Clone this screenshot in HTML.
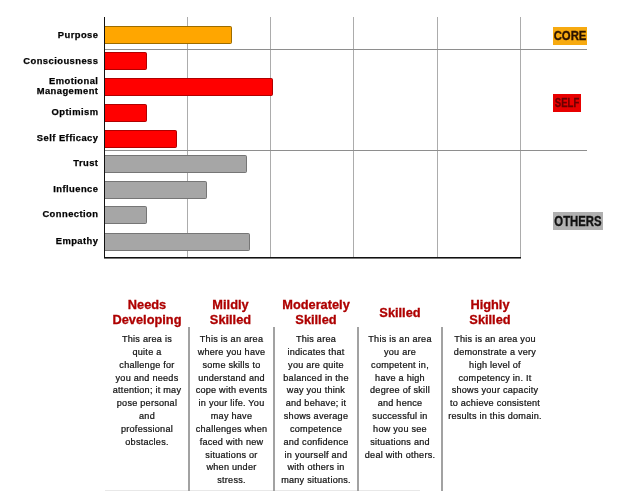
<!DOCTYPE html>
<html><head><meta charset="utf-8">
<style>
html,body{margin:0;padding:0;background:#fff;width:636px;height:491px;overflow:hidden;position:relative;font-family:"Liberation Sans",sans-serif;}
.a{position:absolute;}
.vl{position:absolute;width:1px;background:#acacac;top:17px;height:241px;}
.hl{position:absolute;height:1px;background:#8e8e8e;left:104px;width:483px;}
.lab{position:absolute;right:538px;font-weight:bold;font-size:9.4px;letter-spacing:0.45px;-webkit-text-stroke:0.25px #000;color:#000;text-align:right;line-height:10px;white-space:nowrap;margin-right:-0.45px}
.bar{position:absolute;left:105px;height:16px;border:1px solid;border-left:none;border-radius:0 2px 2px 0;box-sizing:content-box;}
.o{background:#ffa600;border-color:#9c6c00;}
.r{background:#ff0000;border-color:#b00000;}
.g{background:#a6a6a6;border-color:#767676;}
.tag{position:absolute;font-weight:bold;font-size:13px;line-height:18px;color:#1a1a1a;text-align:center;}
.hd{position:absolute;font-weight:bold;font-size:12.8px;line-height:15.3px;color:#b00000;-webkit-text-stroke:0.3px #a80000;text-align:center;white-space:nowrap;}
.bd{position:absolute;font-size:9.1px;letter-spacing:0.25px;-webkit-text-stroke:0.22px #111;line-height:12.85px;color:#111;text-align:center;white-space:nowrap;top:333px;}
.sep{position:absolute;width:2px;background:#a2a2a2;top:327px;height:164px;}
#w{position:absolute;left:0;top:0;width:636px;height:491px;filter:blur(0.35px);}
</style></head><body><div id="w">
<!-- grid -->
<div class="vl" style="left:187px"></div>
<div class="vl" style="left:270px"></div>
<div class="vl" style="left:353px"></div>
<div class="vl" style="left:437px"></div>
<div class="vl" style="left:520px"></div>
<div class="hl" style="top:49px"></div>
<div class="hl" style="top:150px"></div>
<!-- axes -->
<div class="a" style="left:104px;top:17px;width:1px;height:241px;background:#111"></div>
<div class="a" style="left:104px;top:257px;width:417px;height:1px;background:#111"></div><div class="a" style="left:104px;top:258px;width:417px;height:1px;background:#777"></div>
<!-- bars -->
<div class="bar o" style="top:26px;width:126px"></div>
<div class="bar r" style="top:52px;width:41px"></div>
<div class="bar r" style="top:78px;width:167px"></div>
<div class="bar r" style="top:104px;width:41px"></div>
<div class="bar r" style="top:130px;width:71px"></div>
<div class="bar g" style="top:155px;width:141px"></div>
<div class="bar g" style="top:181px;width:101px"></div>
<div class="bar g" style="top:206px;width:41px"></div>
<div class="bar g" style="top:233px;width:144px"></div>
<!-- labels -->
<div class="lab" style="top:30px">Purpose</div>
<div class="lab" style="top:56px">Consciousness</div>
<div class="lab" style="top:76px">Emotional<br>Management</div>
<div class="lab" style="top:107px">Optimism</div>
<div class="lab" style="top:133px">Self Efficacy</div>
<div class="lab" style="top:158px">Trust</div>
<div class="lab" style="top:184px">Influence</div>
<div class="lab" style="top:209px">Connection</div>
<div class="lab" style="top:236px">Empathy</div>
<!-- tags -->
<div class="a" style="left:553px;top:27px;width:34px;height:18px;background:#f7aa10"></div>
<div class="tag" style="left:540px;top:27px;width:60px;color:#2a1200;font-size:13px;line-height:18px;-webkit-text-stroke:0.35px #2a1200;transform:scaleX(0.87)">CORE</div>
<div class="a" style="left:553px;top:94px;width:28px;height:17.5px;background:#e80000"></div>
<div class="tag" style="left:537px;top:95px;width:60px;color:#6a0000;font-size:12px;line-height:17px;-webkit-text-stroke:0.3px #6a0000;transform:scaleX(0.8)">SELF</div>
<div class="a" style="left:553px;top:212px;width:50px;height:18px;background:#b0b0b0"></div>
<div class="tag" style="left:548px;top:212px;width:60px;color:#111;font-size:14px;line-height:18px;-webkit-text-stroke:0.35px #111;transform:scaleX(0.81)">OTHERS</div>
<!-- headers -->
<div class="hd" style="left:105px;width:84px;top:297px">Needs<br>Developing</div>
<div class="hd" style="left:188px;width:85px;top:297px">Mildly<br>Skilled</div>
<div class="hd" style="left:274px;width:84px;top:297px">Moderately<br>Skilled</div>
<div class="hd" style="left:358px;width:84px;top:305px">Skilled</div>
<div class="hd" style="left:437px;width:106px;top:297px">Highly<br>Skilled</div>
<!-- separators -->
<div class="a" style="left:105px;top:490px;width:315px;height:1px;background:#e8e8e8"></div>
<div class="sep" style="left:188px"></div>
<div class="sep" style="left:273px"></div>
<div class="sep" style="left:357px"></div>
<div class="sep" style="left:441px"></div>
<!-- bodies -->
<div class="bd" style="left:105px;width:84px">This area is<br>quite a<br>challenge for<br>you and needs<br>attention; it may<br>pose personal<br>and<br>professional<br>obstacles.</div>
<div class="bd" style="left:189px;width:85px">This is an area<br>where you have<br>some skills to<br>understand and<br>cope with events<br>in your life. You<br>may have<br>challenges when<br>faced with new<br>situations or<br>when under<br>stress.</div>
<div class="bd" style="left:274px;width:84px">This area<br>indicates that<br>you are quite<br>balanced in the<br>way you think<br>and behave; it<br>shows average<br>competence<br>and confidence<br>in yourself and<br>with others in<br>many situations.</div>
<div class="bd" style="left:358px;width:84px">This is an area<br>you are<br>competent in,<br>have a high<br>degree of skill<br>and hence<br>successful in<br>how you see<br>situations and<br>deal with others.</div>
<div class="bd" style="left:442px;width:106px">This is an area you<br>demonstrate a very<br>high level of<br>competency in. It<br>shows your capacity<br>to achieve consistent<br>results in this domain.</div>
</div></body></html>
